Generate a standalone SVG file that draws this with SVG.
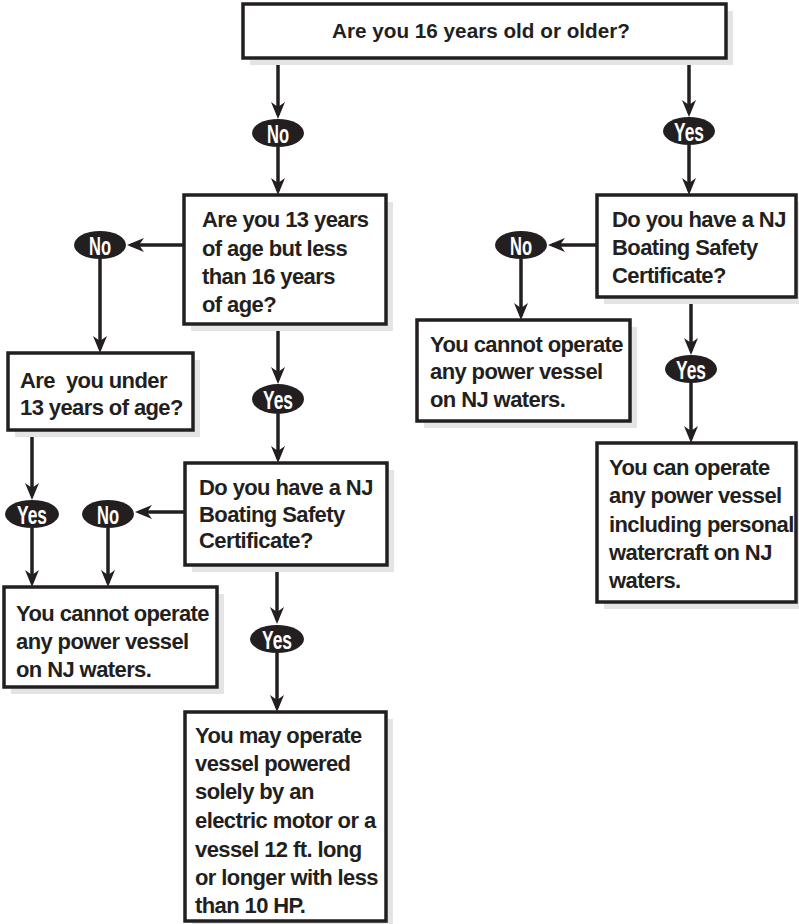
<svg xmlns="http://www.w3.org/2000/svg" width="799" height="924" viewBox="0 0 799 924">
<style>
.box{fill:#fff;stroke:#231f20;stroke-width:3.5}
.sh{fill:#e3e4e5}
.t{font-family:"Liberation Sans",Arial,sans-serif;font-weight:bold;font-size:22px;letter-spacing:-0.6px;fill:#231f20}
.ov{fill:#231f20}
.ot{font-family:"Liberation Sans",Arial,sans-serif;font-weight:bold;font-size:26px;fill:#fff;text-anchor:middle}
.c{stroke:#231f20;stroke-width:3.5;fill:none;marker-end:url(#ah)}
</style>
<defs>
<marker id="ah" markerWidth="20" markerHeight="18" refX="13" refY="8" orient="auto" markerUnits="userSpaceOnUse">
<path d="M17,8 L0,1 L5,8 L0,15 Z" fill="#231f20"/>
</marker>
</defs>
<g id="connectors">
<line class="c" x1="278" y1="58" x2="278" y2="115"/>
<line class="c" x1="278" y1="147" x2="278" y2="191"/>
<line class="c" x1="689" y1="58" x2="689" y2="113"/>
<line class="c" x1="689" y1="145" x2="689" y2="191"/>
<line class="c" x1="184" y1="245" x2="131" y2="245"/>
<line class="c" x1="100" y1="259" x2="100" y2="349"/>
<line class="c" x1="278" y1="324" x2="278" y2="380"/>
<line class="c" x1="278" y1="414" x2="278" y2="459"/>
<line class="c" x1="32" y1="430" x2="32" y2="496"/>
<line class="c" x1="32" y1="528" x2="32" y2="583"/>
<line class="c" x1="185" y1="512" x2="139" y2="512"/>
<line class="c" x1="108" y1="528" x2="108" y2="583"/>
<line class="c" x1="277" y1="565" x2="277" y2="620"/>
<line class="c" x1="277" y1="653" x2="277" y2="708"/>
<line class="c" x1="597" y1="245" x2="552" y2="245"/>
<line class="c" x1="521" y1="259" x2="521" y2="316"/>
<line class="c" x1="691" y1="297" x2="691" y2="351"/>
<line class="c" x1="691" y1="383" x2="691" y2="439"/>
</g>
<g id="q16">
<rect class="sh" x="250" y="11" width="483" height="54"/>
<rect class="box" x="243" y="4" width="483" height="54"/>
<text class="t" x="332" y="38" style="font-size:19.5px;letter-spacing:0" textLength="298" lengthAdjust="spacingAndGlyphs">Are you 16 years old or older?</text>
</g>
<g id="q13">
<rect class="sh" x="191" y="202" width="202" height="129"/>
<rect class="box" x="184" y="195" width="202" height="129"/>
<text class="t" x="202" y="227">Are you 13 years</text>
<text class="t" x="202" y="256">of age but less</text>
<text class="t" x="202" y="284">than 16 years</text>
<text class="t" x="202" y="312">of age?</text>
</g>
<g id="qunder13">
<rect class="sh" x="15" y="360" width="185" height="77"/>
<rect class="box" x="8" y="353" width="185" height="77"/>
<text class="t" x="20" y="388">Are&#160; you under</text>
<text class="t" x="20" y="415">13 years of age?</text>
</g>
<g id="qcert1">
<rect class="sh" x="192" y="470" width="202" height="102"/>
<rect class="box" x="185" y="463" width="202" height="102"/>
<text class="t" x="199" y="495">Do you have a NJ</text>
<text class="t" x="199" y="522">Boating Safety</text>
<text class="t" x="199" y="548">Certificate?</text>
</g>
<g id="cannot1">
<rect class="sh" x="11" y="594" width="213" height="100"/>
<rect class="box" x="4" y="587" width="213" height="100"/>
<text class="t" x="16" y="621">You cannot operate</text>
<text class="t" x="16" y="649">any power vessel</text>
<text class="t" x="16" y="677">on NJ waters.</text>
</g>
<g id="may">
<rect class="sh" x="192" y="719" width="201" height="209"/>
<rect class="box" x="185" y="712" width="201" height="209"/>
<text class="t" x="195" y="743">You may operate</text>
<text class="t" x="195" y="771">vessel powered</text>
<text class="t" x="195" y="799">solely by an</text>
<text class="t" x="195" y="828">electric motor or a</text>
<text class="t" x="195" y="857">vessel 12 ft. long</text>
<text class="t" x="195" y="885">or longer with less</text>
<text class="t" x="195" y="913">than 10 HP.</text>
</g>
<g id="qcert2">
<rect class="sh" x="604" y="202" width="199" height="102"/>
<rect class="box" x="597" y="195" width="199" height="102"/>
<text class="t" x="612" y="227">Do you have a NJ</text>
<text class="t" x="612" y="255">Boating Safety</text>
<text class="t" x="612" y="283">Certificate?</text>
</g>
<g id="cannot2">
<rect class="sh" x="424" y="327" width="213" height="101"/>
<rect class="box" x="417" y="320" width="213" height="101"/>
<text class="t" x="430" y="352">You cannot operate</text>
<text class="t" x="430" y="379">any power vessel</text>
<text class="t" x="430" y="407">on NJ waters.</text>
</g>
<g id="can">
<rect class="sh" x="604" y="450" width="199" height="159"/>
<rect class="box" x="597" y="443" width="199" height="159"/>
<text class="t" x="609" y="475">You can operate</text>
<text class="t" x="609" y="503">any power vessel</text>
<text class="t" x="609" y="532">including personal</text>
<text class="t" x="609" y="560">watercraft on NJ</text>
<text class="t" x="609" y="588">waters.</text>
</g>
<g id="no1"><ellipse class="ov" cx="278" cy="133" rx="26" ry="14"/><text class="ot" x="278" y="142.5" textLength="22" lengthAdjust="spacingAndGlyphs">No</text></g>
<g id="yes1"><ellipse class="ov" cx="689" cy="131" rx="26" ry="14"/><text class="ot" x="689" y="140.5" textLength="30" lengthAdjust="spacingAndGlyphs">Yes</text></g>
<g id="noL"><ellipse class="ov" cx="100" cy="245" rx="26" ry="14"/><text class="ot" x="100" y="254.5" textLength="22" lengthAdjust="spacingAndGlyphs">No</text></g>
<g id="yesC"><ellipse class="ov" cx="278" cy="399" rx="26" ry="15"/><text class="ot" x="278" y="408.5" textLength="30" lengthAdjust="spacingAndGlyphs">Yes</text></g>
<g id="yesL"><ellipse class="ov" cx="32" cy="514" rx="27" ry="14"/><text class="ot" x="32" y="523.5" textLength="30" lengthAdjust="spacingAndGlyphs">Yes</text></g>
<g id="noM"><ellipse class="ov" cx="108" cy="514" rx="26" ry="14"/><text class="ot" x="108" y="523.5" textLength="22" lengthAdjust="spacingAndGlyphs">No</text></g>
<g id="yesC2"><ellipse class="ov" cx="277" cy="639" rx="27" ry="14"/><text class="ot" x="277" y="648.5" textLength="30" lengthAdjust="spacingAndGlyphs">Yes</text></g>
<g id="noR"><ellipse class="ov" cx="521" cy="245" rx="26" ry="14"/><text class="ot" x="521" y="254.5" textLength="22" lengthAdjust="spacingAndGlyphs">No</text></g>
<g id="yesR"><ellipse class="ov" cx="691" cy="369" rx="26" ry="14"/><text class="ot" x="691" y="378.5" textLength="30" lengthAdjust="spacingAndGlyphs">Yes</text></g>
</svg>
